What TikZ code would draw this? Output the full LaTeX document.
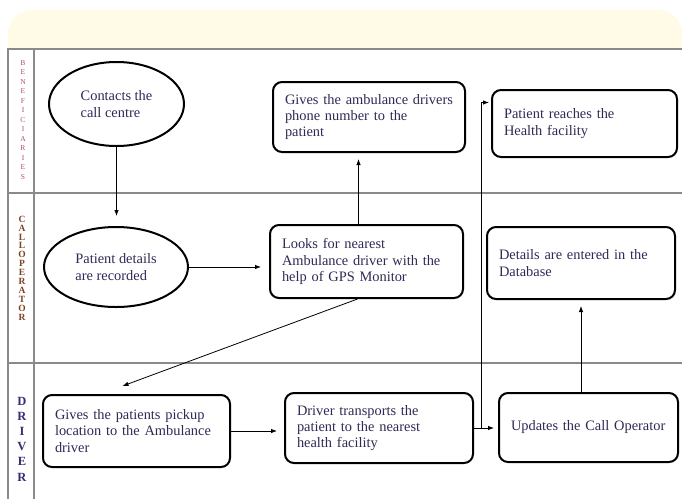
\documentclass[tikz,border=0pt]{standalone}
\usepackage{fontspec}
\setmainfont{Liberation Serif}
\usepackage{xcolor}
\definecolor{band}{HTML}{FFFBE6}
\definecolor{frame}{HTML}{8A8A8A}
\definecolor{ink}{HTML}{2E2A55}
\definecolor{rose}{HTML}{B0506A}
\definecolor{rust}{HTML}{7E4226}
\definecolor{indigo}{HTML}{3A2C74}
\usepackage{tikz}
\usetikzlibrary{shapes.geometric,arrows.meta}

\begin{document}
\begin{tikzpicture}[x=1pt, y=-1pt,
  task/.style={draw, line width=2pt, rounded corners=9pt, inner xsep=12pt, align=left, text=ink, font=\fontsize{14.4}{16.4}\selectfont},
  oval/.style={ellipse, draw, line width=2pt, inner sep=0pt, align=left, text=ink, font=\fontsize{14.4}{16.4}\selectfont},
  lane/.style={draw=frame, line width=1.2pt},
  letters/.style={align=center, inner sep=0pt},
  flow/.style={line width=0.8pt, -{Latex[length=6pt,width=4.5pt]}}]
  \useasboundingbox (0,0) rectangle (682,499);
  \fill[white] (0,0) rectangle (682,499);
  \begin{scope}
    \clip (0,0) rectangle (682,48);
    \fill[band, rounded corners=24pt] (8,10) rectangle (682,90);
  \end{scope}
  \draw[lane] (682,49) -- (8,49) -- (8,499);
  \draw[lane] (34,49) -- (34,499);
  \draw[lane] (8,193) -- (682,193);
  \draw[lane] (8,363) -- (682,363);
  \node[letters, text=rose, font=\fontsize{7.5}{9.5}\selectfont] (benLane) at (23,120) {B\\E\\N\\E\\F\\I\\C\\I\\A\\R\\I\\E\\S};
  \node[letters, text=rust, font=\bfseries\fontsize{9.5}{8.9}\selectfont] (callLane) at (22,268) {C\\A\\L\\L\\O\\P\\E\\R\\A\\T\\O\\R};
  \node[letters, text=indigo, font=\bfseries\fontsize{12.5}{15.2}\selectfont] (drvLane) at (22,439) {D\\R\\I\\V\\E\\R};
  \node[oval, minimum width=135pt, minimum height=84pt] (contact) at (116.5,104) {Contacts the\\call centre};
  \node[oval, minimum width=144pt, minimum height=80pt] (record) at (116,267) {Patient details\\are recorded};
  \node[task, text width=168pt, minimum height=70pt] (phone) at (369,117) {Gives the ambulance drivers\\phone number to the\\patient};
  \node[task, text width=161pt, minimum height=67pt] (reach) at (584.5,123.5) {Patient reaches the\\Health facility};
  \node[task, text width=169pt, minimum height=73pt] (nearest) at (366.5,261.5) {Looks for nearest\\Ambulance driver with the\\help of GPS Monitor};
  \node[task, text width=164pt, minimum height=72pt] (dbase) at (581,263) {Details are entered in the\\Database};
  \node[task, text width=163pt, minimum height=72pt] (pickup) at (136.5,431) {Gives the patients pickup\\location to the Ambulance\\driver};
  \node[task, text width=164pt, minimum height=70pt] (transport) at (379,428) {Driver transports the\\patient to the nearest\\health facility};
  \node[task, text width=155pt, minimum height=69pt] (update) at (588.5,427.5) {Updates the Call Operator};
  \coordinate (split) at (481,428);
  \draw[flow, shorten >=10pt] (contact.south) -- (contact.south |- record.north);
  \draw[flow, shorten >=8pt] (record.east) -- (record.east -| nearest.west);
  \draw[flow, shorten >=6pt] ([xshift=-8pt]nearest.north) -- ([xshift=-8pt]nearest.north |- phone.south);
  \draw[flow] ([xshift=-9pt]nearest.south) -- ([xshift=-14pt,yshift=8pt]pickup.north);
  \draw[flow, shorten >=7pt] (pickup.east) -- (pickup.east -| transport.west);
  \draw[line width=0.8pt] (transport.east) -- (split);
  \draw[flow, shorten >=4pt] (split) -- (split -| update.west);
  \draw[flow, shorten >=2pt] (split) |- ([yshift=21pt]reach.west);
  \draw[flow, shorten >=6pt] (update.north -| dbase.south) -- (dbase.south);
\end{tikzpicture}
\end{document}
